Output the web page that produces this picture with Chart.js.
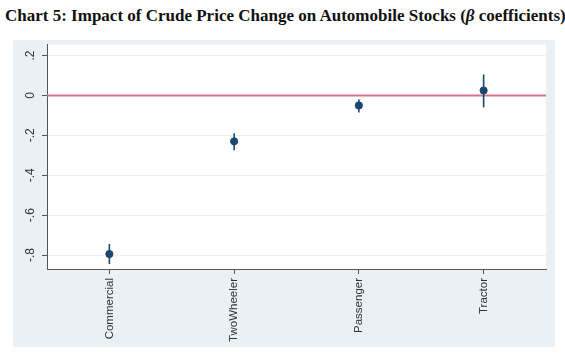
<!DOCTYPE html>
<html>
<head>
<meta charset="utf-8">
<script src="https://cdn.jsdelivr.net/npm/chart.js@4/dist/chart.umd.min.js"></script>
<style>
  body { margin: 0; background: #fff; width: 565px; height: 354px; overflow: hidden; position: relative; }
  #title { position: absolute; left: 5px; top: 6px; font: bold 17px "Liberation Serif", "Times New Roman", serif; color: #111; white-space: nowrap; }
  #wrap { position: absolute; left: 13px; top: 40px; width: 542px; height: 307px; background: #eaf0f3; }
</style>
</head>
<body>
<div id="title">Chart 5: Impact of Crude Price Change on Automobile Stocks (<i>β</i> coefficients)</div>
<div id="wrap"><canvas id="canvas" width="542" height="307"></canvas></div>
<script>
var categories = ["Commercial", "TwoWheeler", "Passenger", "Tractor"];
var beta  = [-0.795, -0.23, -0.05, 0.025];
var lower = [-0.845, -0.275, -0.085, -0.06];
var upper = [-0.745, -0.19, -0.02, 0.105];
var yTicks = [-0.8, -0.6, -0.4, -0.2, 0, 0.2];

var navy = "#1a476f";

var points = beta.map(function(v, i) { return {x: i + 1, y: v}; });

function fmt(v) {
  if (Math.abs(v) < 1e-9) return "0";
  return v.toFixed(1).replace("0.", ".");
}

var extras = {
  id: "extras",
  beforeDraw: function(chart) {
    var ctx = chart.ctx, a = chart.chartArea;
    ctx.save();
    ctx.fillStyle = "#fff";
    ctx.fillRect(a.left, a.top, a.right - a.left, a.bottom - a.top);
    ctx.restore();
  },
  beforeDatasetsDraw: function(chart) {
    var ctx = chart.ctx, xs = chart.scales.x, ys = chart.scales.y, area = chart.chartArea;
    ctx.save();
    // zero line
    ctx.strokeStyle = "#d9738d";
    ctx.lineWidth = 2;
    ctx.beginPath();
    ctx.moveTo(area.left, ys.getPixelForValue(0));
    ctx.lineTo(area.right, ys.getPixelForValue(0));
    ctx.stroke();
    // confidence intervals
    ctx.strokeStyle = navy;
    ctx.lineWidth = 1.6;
    for (var i = 0; i < beta.length; i++) {
      var px = xs.getPixelForValue(i + 1);
      ctx.beginPath();
      ctx.moveTo(px, ys.getPixelForValue(lower[i]));
      ctx.lineTo(px, ys.getPixelForValue(upper[i]));
      ctx.stroke();
    }
    // y tick labels, rotated and centred on the tick
    ctx.fillStyle = "#333";
    ctx.font = "12px 'Liberation Sans', Arial";
    ctx.textAlign = "center";
    ctx.textBaseline = "middle";
    ys.ticks.forEach(function(t) {
      var py = ys.getPixelForValue(t.value);
      ctx.save();
      ctx.translate(area.left - 16, py);
      ctx.rotate(-Math.PI / 2);
      ctx.fillText(fmt(t.value), 0, 0);
      ctx.restore();
    });
    ctx.restore();
  }
};

var config = {
  type: "scatter",
  data: {
    datasets: [{
      data: points,
      backgroundColor: navy,
      borderColor: navy,
      pointRadius: 3.6,
      pointHoverRadius: 3.6
    }]
  },
  options: {
    responsive: false,
    animation: false,
    layout: {padding: {top: 4, right: 9, left: 0, bottom: 0}},
    plugins: {legend: {display: false}, tooltip: {enabled: false}, title: {display: false}},
    scales: {
      x: {
        type: "linear",
        min: 0.5,
        max: 4.5,
        afterBuildTicks: function(s) { s.ticks = categories.map(function(c, i) { return {value: i + 1}; }); },
        afterFit: function(s) { s.height = 78; },
        ticks: {
          callback: function(v) { return categories[v - 1]; },
          minRotation: 90, maxRotation: 90,
          color: "#333",
          font: {family: "Liberation Sans, Arial", size: 11.5},
          padding: 4,
          autoSkip: false
        },
        grid: {drawOnChartArea: false, tickLength: 5, tickColor: "#555"},
        border: {color: "#555", width: 1}
      },
      y: {
        min: -0.87,
        max: 0.255,
        afterBuildTicks: function(s) { s.ticks = yTicks.map(function(v) { return {value: v}; }); },
        afterFit: function(s) { s.width = 34; },
        ticks: {display: false},
        grid: {color: "#eef2f4", tickLength: 5, tickColor: "#555", lineWidth: 1},
        border: {color: "#555", width: 1}
      }
    }
  },
  plugins: [extras]
};

window.onload = function() {
  var ctx = document.getElementById("canvas").getContext("2d");
  window.graph1 = new Chart(ctx, config);
};
</script>
</body>
</html>
